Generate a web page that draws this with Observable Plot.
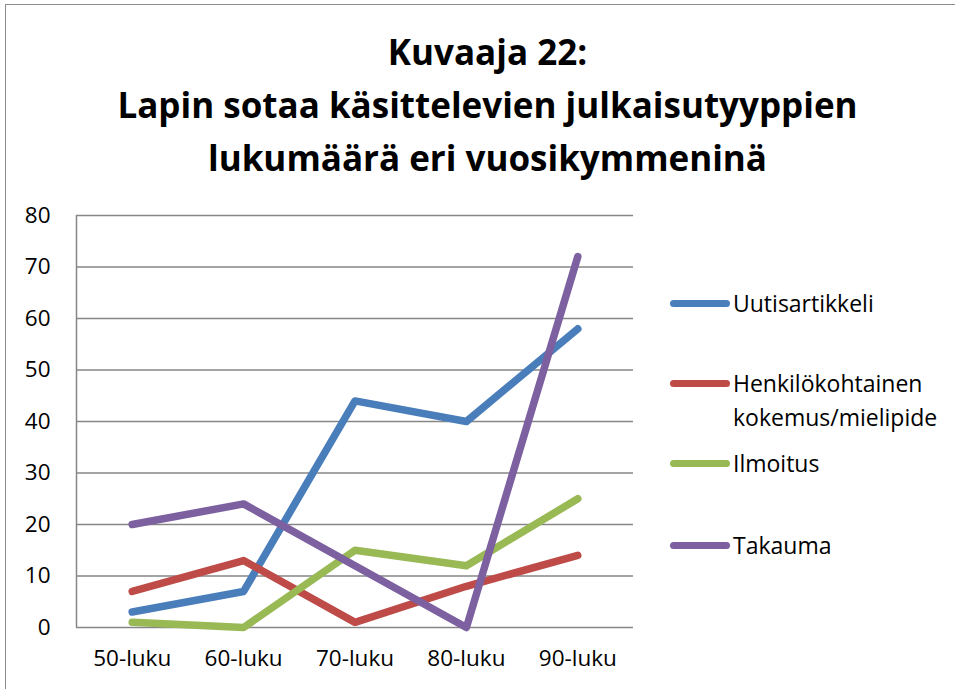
<!DOCTYPE html>
<html>
<head>
<meta charset="utf-8">
<script src="https://cdn.jsdelivr.net/npm/d3@7"></script>
<script src="https://cdn.jsdelivr.net/npm/@observablehq/plot@0.6"></script>
<style>
  html, body { margin: 0; padding: 0; background: #fff; }
  #wrap { position: relative; width: 955px; height: 689px; overflow: hidden; font-family: "Open Sans", sans-serif; }
  #border { position: absolute; left: 5px; top: 4px; width: 1000px; height: 1000px; border-left: 1.5px solid #8c8c8c; border-top: 1.5px solid #8c8c8c; box-sizing: border-box; }
  #title { position: absolute; left: 0; top: 25px; width: 975px; text-align: center; font-weight: bold; font-size: 35px; line-height: 53px; color: #000; }
  #chart { position: absolute; left: 0; top: 200px; }
  #legend { position: absolute; left: 670px; top: 0; }
  .item { position: absolute; left: 0; width: 300px; font-size: 23px; line-height: 34px; color: #000; white-space: nowrap; }
  .sw { position: absolute; left: 0; width: 60px; height: 7px; border-radius: 4px; }
  .lab { position: absolute; left: 63px; }
</style>
</head>
<body>
<div id="wrap">
  <div id="border"></div>
  <div id="title">Kuvaaja 22:<br>Lapin sotaa käsittelevien julkaisutyyppien<br>lukumäärä eri vuosikymmeninä</div>
  <div id="chart"></div>
  <div id="legend"></div>
</div>
<script>
const categories = ["50-luku", "60-luku", "70-luku", "80-luku", "90-luku"];
const seriesNames = ["Uutisartikkeli", "Henkilökohtainen kokemus/mielipide", "Ilmoitus", "Takauma"];
const uutisartikkeli = [3, 7, 44, 40, 58];
const henkilokohtainen = [7, 13, 1, 8, 14];
const ilmoitus = [1, 0, 15, 12, 25];
const takauma = [20, 24, 12, 0, 72];
const yTicks = [0, 10, 20, 30, 40, 50, 60, 70, 80];
const colors = ["#4A7EBB", "#BE4B48", "#98B954", "#7D60A0"];

const seriesValues = [uutisartikkeli, henkilokohtainen, ilmoitus, takauma];
const data = [];
seriesNames.forEach((name, s) => {
  seriesValues[s].forEach((v, i) => data.push({series: name, idx: i, cat: categories[i], value: v}));
});

const chart = Plot.plot({
  width: 955,
  height: 489,
  marginTop: 15,
  marginLeft: 76,
  marginRight: 322,
  marginBottom: 62,
  style: {fontFamily: "Open Sans, sans-serif", fontSize: "22.5px", color: "#000", background: "transparent"},
  x: {domain: [-0.5, categories.length - 0.5], ticks: d3.range(categories.length), tickFormat: i => categories[i], label: null},
  y: {domain: [0, 80], ticks: yTicks, label: null},
  color: {domain: seriesNames, range: colors},
  marks: [
    Plot.ruleY(yTicks, {stroke: "#868686", strokeWidth: 1.5, strokeOpacity: 1}),
    Plot.ruleX([-0.5], {stroke: "#868686", strokeWidth: 1.5}),
    Plot.axisY({ticks: yTicks, tickSize: 0, tickPadding: 26, fontSize: 22.5, label: null}),
    Plot.axisX({ticks: d3.range(categories.length), tickFormat: i => categories[i], tickSize: 0, tickPadding: 23, fontSize: 22.5, label: null}),
    Plot.line(data, {x: "idx", y: "value", z: "series", stroke: "series", strokeWidth: 7.5, strokeLinejoin: "round", strokeLinecap: "round"})
  ]
});
document.getElementById("chart").appendChild(chart);

// legend
const legend = document.getElementById("legend");
const legendLabels = ["Uutisartikkeli", "Henkilökohtainen<br>kokemus/mielipide", "Ilmoitus", "Takauma"];
const legendY = [303, 383, 463, 545];
legendLabels.forEach((lab, i) => {
  const item = document.createElement("div");
  item.className = "item";
  item.style.top = (legendY[i] - 17) + "px";
  item.innerHTML = `<div class="sw" style="background:${colors[i]};top:14px"></div><div class="lab">${lab}</div>`;
  legend.appendChild(item);
});
</script>
</body>
</html>
